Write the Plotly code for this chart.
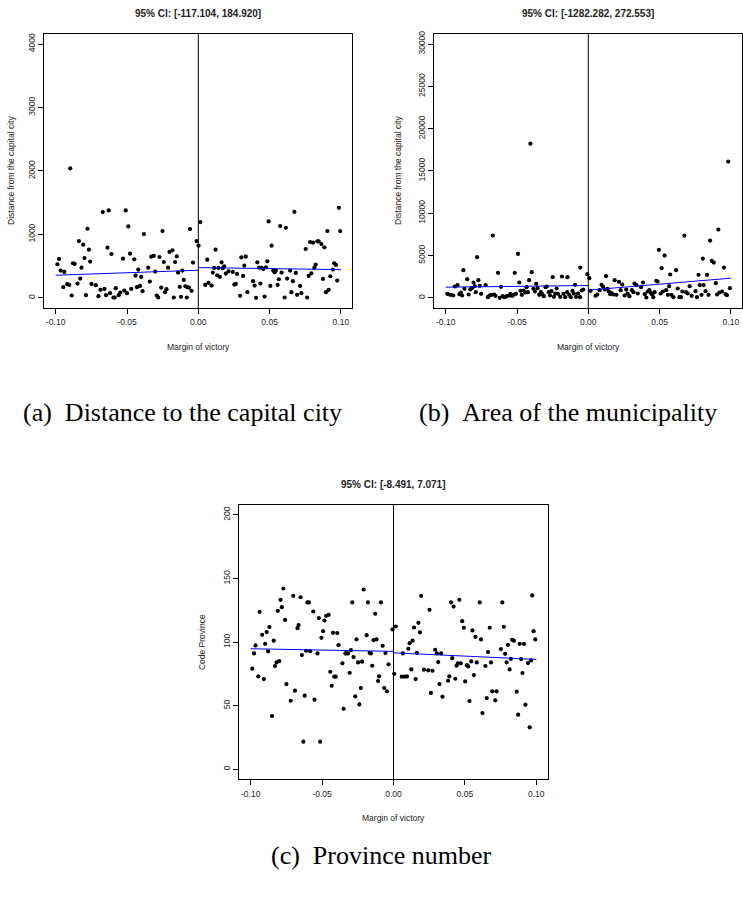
import plotly.graph_objects as go

# ---------------- data ----------------
x_ticks = [-0.10, -0.05, 0.00, 0.05, 0.10]
x_ticktext = ["-0.10", "-0.05", "0.00", "0.05", "0.10"]

a_yticks = [0, 1000, 2000, 3000, 4000]
b_yticks = [0, 5000, 10000, 15000, 20000, 25000, 30000]
c_yticks = [0, 50, 100, 150, 200]

a_titles = ["95% CI: [-117.104, 184.920]", "Distance from the capital city", "(a)\u2002Distance to the capital city"]
b_titles = ["95% CI: [-1282.282, 272.553]", "Distance from the capital city", "(b)\u2002Area of the municipality"]
c_titles = ["95% CI: [-8.491, 7.071]", "Code Province", "(c)\u2002Province number"]

a_points = [
    (-0.0988, 529), (-0.0977, 613), (-0.0965, 430), (-0.094, 408), (-0.0947, 168), (-0.0919, 215),
    (-0.0905, 204), (-0.0898, 2042), (-0.0888, 37), (-0.0879, 545), (-0.0867, 534), (-0.0847, 225),
    (-0.0837, 895), (-0.0828, 304), (-0.0819, 476), (-0.0807, 838), (-0.0798, 628), (-0.0788, 42),
    (-0.0777, 1089), (-0.0767, 759), (-0.0758, 571), (-0.0749, 220), (-0.0719, 199), (-0.07, 26),
    (-0.0686, 126), (-0.067, 1351), (-0.0658, 141), (-0.0647, 42), (-0.0637, 791), (-0.0628, 1377),
    (-0.0619, 73), (-0.0609, 691), (-0.0595, 5), (-0.0586, 5), (-0.0579, 152), (-0.0558, 42),
    (-0.0547, 84), (-0.0528, 618), (-0.0519, 115), (-0.0509, 1377), (-0.05, 73), (-0.0491, 1126),
    (-0.0479, 696), (-0.047, 141), (-0.0449, 607), (-0.044, 351), (-0.043, 168), (-0.0421, 445),
    (-0.0409, 188), (-0.04, 330), (-0.0391, 105), (-0.0381, 1005), (-0.0351, 476), (-0.034, 257),
    (-0.033, 649), (-0.0312, 660), (-0.0302, 414), (-0.0291, 37), (-0.0281, 5), (-0.0272, 644),
    (-0.026, 162), (-0.0251, 1052), (-0.0242, 565), (-0.0233, 89), (-0.0223, 136), (-0.0212, 476),
    (-0.0202, 723), (-0.0181, 749), (-0.0172, 5), (-0.0163, 565), (-0.0151, 654), (-0.0142, 398),
    (-0.013, 173), (-0.0121, 16), (-0.0112, 430), (-0.0102, 283), (-0.0091, 183), (-0.0081, 5),
    (-0.0077, 168), (-0.0065, 162), (-0.0058, 1084), (-0.0047, 110), (-0.0037, 555), (-0.0012, 895),
    (0.0002, 822), (0.0014, 1194), (0.0049, 204), (0.0063, 602), (0.0072, 236), (0.0093, 194),
    (0.0102, 398), (0.0112, 471), (0.0121, 759), (0.0133, 356), (0.0142, 471), (0.0151, 330),
    (0.0163, 560), (0.0172, 466), (0.0181, 497), (0.0193, 382), (0.0212, 419), (0.0242, 408),
    (0.0253, 209), (0.0263, 220), (0.0272, 377), (0.0293, 31), (0.0302, 639), (0.0314, 346),
    (0.0323, 508), (0.0333, 649), (0.0344, 89), (0.0384, 262), (0.0395, 194), (0.0405, 0),
    (0.0414, 560), (0.0426, 476), (0.0435, 225), (0.0444, 471), (0.0456, 456), (0.0465, 21),
    (0.0474, 482), (0.0484, 576), (0.0493, 1204), (0.0505, 188), (0.0514, 822), (0.0526, 430),
    (0.0535, 403), (0.0544, 430), (0.0556, 204), (0.0565, 293), (0.0574, 1131), (0.0584, 398),
    (0.0605, 5), (0.0614, 1105), (0.0623, 304), (0.0644, 430), (0.0653, 89), (0.0663, 262),
    (0.0674, 1356), (0.0684, 393), (0.0693, 47), (0.0714, 188), (0.0723, 73), (0.0753, 770),
    (0.0763, 5), (0.0774, 346), (0.0784, 880), (0.0793, 387), (0.0805, 869), (0.0814, 476),
    (0.0823, 524), (0.0835, 890), (0.0844, 890), (0.0863, 848), (0.0874, 298), (0.0884, 796),
    (0.0895, 89), (0.0905, 1052), (0.0914, 126), (0.0926, 340), (0.0944, 445), (0.0953, 545),
    (0.0965, 518), (0.0974, 272), (0.0986, 1419), (0.0995, 1052),
]

b_points = [
    (-0.0989, 472), (-0.0977, 394), (-0.0963, 354), (-0.0947, 276), (-0.0936, 1339), (-0.0917, 1496),
    (-0.0904, 433), (-0.0894, 630), (-0.0885, 276), (-0.0876, 3268), (-0.0869, 1063), (-0.0849, 2205),
    (-0.0839, 394), (-0.0828, 984), (-0.0817, 1142), (-0.0805, 1811), (-0.0797, 1378), (-0.0789, 669),
    (-0.078, 4803), (-0.0771, 2087), (-0.0761, 1417), (-0.0752, 472), (-0.072, 1496), (-0.0704, 79),
    (-0.0693, 276), (-0.0679, 354), (-0.067, 7362), (-0.066, 394), (-0.0651, 236), (-0.0633, 2953),
    (-0.0622, 0), (-0.0612, 1299), (-0.0601, 197), (-0.059, 79), (-0.058, 118), (-0.0569, 236),
    (-0.0555, 276), (-0.0546, 472), (-0.0534, 236), (-0.0525, 354), (-0.0516, 2953), (-0.0507, 472),
    (-0.0493, 5197), (-0.0484, 1811), (-0.0475, 827), (-0.0466, 354), (-0.0454, 866), (-0.0443, 630),
    (-0.0433, 1260), (-0.0424, 669), (-0.0415, 2087), (-0.0406, 18228), (-0.0397, 3031), (-0.0385, 1063),
    (-0.0374, 748), (-0.0365, 1654), (-0.0356, 1142), (-0.0344, 354), (-0.0333, 669), (-0.0323, 433),
    (-0.0312, 197), (-0.03, 1260), (-0.0291, 1339), (-0.0278, 669), (-0.0268, 276), (-0.0259, 787),
    (-0.025, 2441), (-0.0241, 118), (-0.0232, 512), (-0.0222, 1102), (-0.0213, 472), (-0.0197, 118),
    (-0.0185, 2520), (-0.0174, 472), (-0.0162, 79), (-0.0146, 2441), (-0.0148, 669), (-0.0134, 354),
    (-0.0123, 79), (-0.0111, 827), (-0.0102, 512), (-0.0093, 1535), (-0.0086, 118), (-0.0072, 512),
    (-0.0058, 79), (-0.0056, 3583), (-0.0046, 866), (-0.0035, 984), (-0.0007, 2795),
    (0.0007, 2323), (0.0016, 827), (0.0051, 236), (0.0063, 394), (0.0079, 906), (0.0093, 1535),
    (0.0104, 1299), (0.0116, 984), (0.0125, 2559), (0.0134, 1063), (0.0144, 748), (0.0153, 433),
    (0.0164, 551), (0.0176, 394), (0.0185, 2087), (0.0197, 354), (0.0215, 1890), (0.0227, 906),
    (0.0238, 1575), (0.0255, 276), (0.0266, 984), (0.0275, 512), (0.0289, 197), (0.0306, 906),
    (0.0317, 669), (0.0324, 1693), (0.0338, 1496), (0.0347, 512), (0.037, 1260), (0.0384, 1811),
    (0.0396, 433), (0.0407, 39), (0.0417, 748), (0.0428, 906), (0.0438, 591), (0.0447, 394),
    (0.0456, 79), (0.0465, 669), (0.0477, 2008), (0.0486, 1929), (0.0495, 5669), (0.0507, 512),
    (0.0514, 3504), (0.0523, 748), (0.0535, 5000), (0.0546, 906), (0.0558, 354), (0.0567, 1378),
    (0.0574, 2756), (0.0583, 354), (0.0597, 79), (0.0616, 3268), (0.0627, 1102), (0.0639, 79),
    (0.065, 79), (0.066, 748), (0.0674, 7362), (0.0685, 669), (0.0697, 512), (0.0711, 1378),
    (0.0725, 236), (0.0752, 787), (0.0762, 79), (0.0773, 2717), (0.0782, 1496), (0.0794, 354),
    (0.0803, 4646), (0.0808, 1496), (0.0822, 787), (0.0833, 2717), (0.0843, 354), (0.0854, 6772),
    (0.0866, 4370), (0.088, 4173), (0.0894, 1732), (0.0903, 394), (0.0912, 8071), (0.0919, 630),
    (0.0938, 748), (0.0951, 3583), (0.0963, 433), (0.0972, 315), (0.0981, 16102), (0.0993, 1142),
]

c_points = [
    (-0.0989, 79.1), (-0.0977, 91.1), (-0.0966, 97.4), (-0.0947, 73.0), (-0.0938, 123.8), (-0.092, 105.8),
    (-0.0908, 70.9), (-0.0899, 98.7), (-0.0888, 107.9), (-0.0878, 92.7), (-0.0869, 111.8), (-0.0851, 41.9),
    (-0.0839, 101.1), (-0.083, 81.2), (-0.0819, 84.0), (-0.081, 124.6), (-0.08, 85.1), (-0.0791, 133.3),
    (-0.0782, 127.5), (-0.0771, 142.2), (-0.0759, 117.5), (-0.075, 67.0), (-0.072, 53.9), (-0.0702, 136.4),
    (-0.069, 61.8), (-0.0672, 111.0), (-0.0665, 113.4), (-0.0651, 135.3), (-0.0642, 89.8), (-0.0631, 21.7),
    (-0.0622, 57.9), (-0.0612, 93.2), (-0.0603, 131.2), (-0.0592, 131.2), (-0.0583, 92.9), (-0.0562, 124.1),
    (-0.0553, 54.7), (-0.0532, 91.1), (-0.0523, 118.9), (-0.0514, 21.7), (-0.0505, 103.4), (-0.0493, 108.6),
    (-0.0484, 117.0), (-0.0472, 120.7), (-0.0454, 121.5), (-0.0443, 76.7), (-0.0433, 65.7), (-0.0424, 107.3),
    (-0.0415, 72.8), (-0.0404, 72.8), (-0.0394, 107.1), (-0.0385, 97.6), (-0.0358, 83.3), (-0.0349, 47.6),
    (-0.0337, 91.1), (-0.0328, 91.1), (-0.0319, 91.1), (-0.0307, 75.9), (-0.0298, 93.7), (-0.0289, 131.2),
    (-0.028, 88.2), (-0.0268, 57.3), (-0.0259, 102.1), (-0.0248, 84.0), (-0.0239, 51.0), (-0.0229, 63.9),
    (-0.022, 84.6), (-0.0209, 141.4), (-0.0188, 105.5), (-0.0179, 131.2), (-0.0167, 91.6), (-0.0158, 91.1),
    (-0.0149, 81.4), (-0.014, 101.6), (-0.0128, 122.3), (-0.0119, 102.1), (-0.0108, 69.4), (-0.0101, 73.0),
    (-0.0088, 131.2), (-0.0076, 97.1), (-0.0065, 63.9), (-0.0056, 91.4), (-0.0046, 61.3), (-0.0035, 82.5),
    (-0.0007, 110.0), (0.0005, 75.1), (0.0016, 112.3), (0.0058, 72.8), (0.0065, 91.1), (0.0079, 72.8),
    (0.0095, 73.0), (0.0104, 94.8), (0.0113, 99.2), (0.0125, 78.5), (0.0134, 101.1), (0.0144, 111.5),
    (0.0155, 70.9), (0.0164, 91.6), (0.0174, 115.2), (0.0185, 107.6), (0.0194, 136.4), (0.0213, 78.3),
    (0.0243, 77.8), (0.0252, 125.4), (0.0262, 60.0), (0.0273, 77.5), (0.0292, 94.0), (0.0303, 91.1),
    (0.0313, 84.3), (0.0322, 67.0), (0.0333, 91.1), (0.0343, 57.1), (0.0382, 69.6), (0.0391, 73.0),
    (0.0403, 131.2), (0.0412, 87.4), (0.0421, 128.0), (0.0433, 71.2), (0.0442, 81.4), (0.0451, 83.3),
    (0.0461, 133.3), (0.0472, 83.3), (0.0481, 116.5), (0.0493, 111.3), (0.0502, 69.1), (0.0514, 81.9),
    (0.0523, 80.9), (0.0532, 53.7), (0.0544, 84.8), (0.0553, 109.2), (0.0563, 74.1), (0.0574, 104.2),
    (0.0583, 84.0), (0.0604, 131.2), (0.0613, 102.1), (0.0623, 44.2), (0.0644, 81.2), (0.0653, 56.0),
    (0.0662, 92.2), (0.0674, 111.3), (0.0683, 84.0), (0.0692, 61.3), (0.0713, 54.2), (0.0722, 61.3),
    (0.0752, 94.5), (0.0762, 131.2), (0.0773, 112.1), (0.0782, 90.8), (0.0792, 84.0), (0.0801, 97.9),
    (0.0813, 78.5), (0.0822, 86.9), (0.0831, 101.8), (0.0843, 101.1), (0.0863, 61.0), (0.0873, 42.9),
    (0.0884, 98.7), (0.0894, 86.7), (0.0903, 75.7), (0.0914, 98.7), (0.0924, 50.8), (0.0942, 83.5),
    (0.0954, 33.0), (0.0963, 85.6), (0.0972, 136.7), (0.0981, 108.6), (0.0993, 102.1),
]

# local linear fits (value at the two ends of each side)
fit_left_x = [-0.10, 0.0]
fit_right_x = [0.0, 0.10]
a_fit_left = [356, 435]
a_fit_right = [476, 445]
b_fit_left = [1260, 1457]
b_fit_right = [906, 2323]
c_fit_left = [94.8, 92.7]
c_fit_right = [91.6, 86.4]

# ---------------- figure ----------------
W, H = 743, 904
SANS = "Liberation Sans, Arial, Helvetica, sans-serif"
SERIF = "Liberation Serif, Times New Roman, serif"

def px(x):
    return x / W

def py(y):
    return 1 - y / H

panels = [
    (a_points, a_fit_left, a_fit_right, a_yticks, [-160, 4160], a_titles, (44.3, 352.3, 31, 306), 11, (182, 411)),
    (b_points, b_fit_left, b_fit_right, b_yticks, [-1200, 31200], b_titles, (434.3, 742.3, 31, 306), 398, (568, 411)),
    (c_points, c_fit_left, c_fit_right, c_yticks, [-8, 208], c_titles, (239.3, 547.7, 503.5, 779), 202, (381, 855)),
]

fig = go.Figure()
annotations = []
shapes = []

for i, (pts, fl, fr, yt, yr, titles, box, ylx, cap) in enumerate(panels):
    n = "" if i == 0 else str(i + 1)
    xa, ya = "x" + n, "y" + n
    xs = [p[0] for p in pts]
    ys = [p[1] for p in pts]
    fig.add_trace(go.Scatter(x=xs, y=ys, mode="markers", xaxis=xa, yaxis=ya,
                             marker=dict(color="black", size=4.2), showlegend=False, hoverinfo="skip"))
    fig.add_trace(go.Scatter(x=fit_left_x, y=fl, mode="lines", xaxis=xa, yaxis=ya,
                             line=dict(color="#0000ff", width=1), showlegend=False))
    fig.add_trace(go.Scatter(x=fit_right_x, y=fr, mode="lines", xaxis=xa, yaxis=ya,
                             line=dict(color="#0000ff", width=1), showlegend=False))

    x0, x1, y0, y1 = box
    common = dict(showgrid=False, zeroline=False, showline=True, linecolor="black", linewidth=1,
                  mirror=True, ticks="outside", ticklen=5, tickwidth=1, tickcolor="black",
                  tickfont=dict(family=SANS, size=8.5, color="#222"))
    fig.layout["xaxis" + n] = dict(domain=[px(x0), px(x1)], range=[-0.108, 0.108], anchor=ya,
                                   tickvals=x_ticks, ticktext=x_ticktext, ticklabelstandoff=1, **common)
    fig.layout["yaxis" + n] = dict(domain=[py(y1), py(y0)], range=yr, anchor=xa,
                                   tickvals=yt, ticktext=[str(v) for v in yt], tickangle=-90, **common)

    shapes.append(dict(type="line", xref=xa, yref=ya + " domain", x0=0, x1=0, y0=0, y1=1,
                       line=dict(color="black", width=1)))

    cx = (x0 + x1) / 2
    cy = (y0 + y1) / 2
    base = dict(xref="paper", yref="paper", showarrow=False, xanchor="center", yanchor="middle")
    annotations.append(dict(text="<b>" + titles[0] + "</b>", x=px(cx), y=py(y0 - 20),
                            font=dict(family=SANS, size=10, color="#222"), **base))
    annotations.append(dict(text="Margin of victory", x=px(cx), y=py(y1 + 39),
                            font=dict(family=SANS, size=8.5, color="#222"), **base))
    annotations.append(dict(text=titles[1], x=px(ylx), y=py(cy), textangle=-90,
                            font=dict(family=SANS, size=8.5, color="#222"), **base))
    annotations.append(dict(text=titles[2], x=px(cap[0]), y=py(cap[1]),
                            font=dict(family=SERIF, size=26, color="black"), **base))

fig.update_layout(width=W, height=H, margin=dict(l=0, r=0, t=0, b=0),
                  paper_bgcolor="white", plot_bgcolor="white",
                  annotations=annotations, shapes=shapes, showlegend=False)

fig.write_html("out.html", config={"displayModeBar": False},
               post_script="document.body.style.margin='0';document.body.style.overflow='hidden';")
